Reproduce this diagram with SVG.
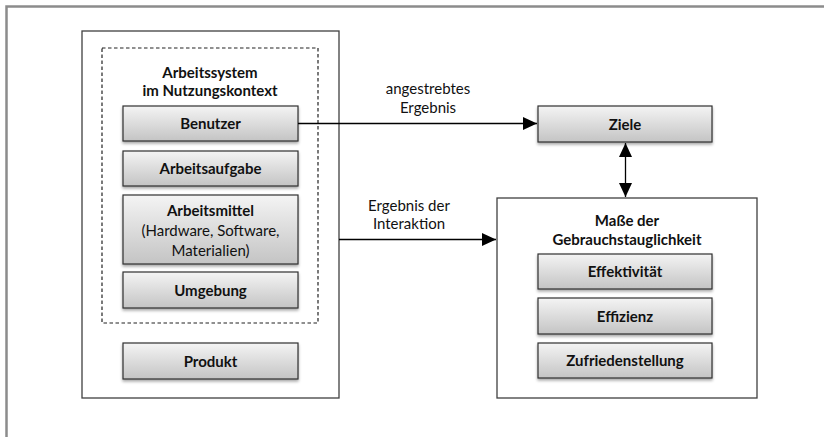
<svg xmlns="http://www.w3.org/2000/svg" width="824" height="437" viewBox="0 0 824 437">
  <style>
    .frame { fill: none; stroke: #8c8c8c; stroke-width: 2.5; }
    .box { fill: #ffffff; stroke: #404040; stroke-width: 1.3; }
    .dash { fill: none; stroke: #222222; stroke-width: 1.2; stroke-dasharray: 3.5 2.5; }
    .item { fill: url(#grayGrad); stroke: #303030; stroke-width: 1.2; filter: url(#shadow); }
    .label { font-family: Lato, "Open Sans", "Liberation Sans", sans-serif; font-size: 15px; fill: #111111; text-anchor: middle; }
    .bold { font-weight: bold; }
    .conn { fill: none; stroke: #000000; stroke-width: 1.3; }
  </style>
  <defs>
    <linearGradient id="grayGrad" x1="0" y1="0" x2="0" y2="1">
      <stop offset="0" stop-color="#f4f4f4"/>
      <stop offset="1" stop-color="#c4c4c4"/>
    </linearGradient>
    <filter id="shadow" x="-10%" y="-20%" width="120%" height="150%">
      <feGaussianBlur in="SourceAlpha" stdDeviation="1.5"/>
      <feOffset dx="0" dy="2" result="b"/>
      <feComponentTransfer><feFuncA type="linear" slope="0.35"/></feComponentTransfer>
      <feMerge><feMergeNode/><feMergeNode in="SourceGraphic"/></feMerge>
    </filter>
    <marker id="arrow" viewBox="0 0 14 13" refX="14" refY="6.5" markerWidth="14" markerHeight="13" markerUnits="userSpaceOnUse" orient="auto-start-reverse">
      <path d="M0,0 L14,6.5 L0,13 Z" fill="#000000"/>
    </marker>
  </defs>

  <rect width="824" height="437" fill="#ffffff"/>
  <!-- page frame: top and left edges -->
  <path class="frame" d="M6.5,437 V6.5 H824"/>

  <!-- work system container -->
  <g id="arbeitssystem">
    <rect class="box" x="82" y="31" width="257" height="367"/>
    <rect class="dash" x="102" y="48" width="216" height="275"/>
    <text class="label bold" x="210" y="78">Arbeitssystem</text>
    <text class="label bold" x="210" y="96">im Nutzungskontext</text>
  </g>
  <g id="benutzer">
    <rect class="item" x="123" y="106" width="175" height="35"/>
    <text class="label bold" x="210.5" y="129">Benutzer</text>
  </g>
  <g id="arbeitsaufgabe">
    <rect class="item" x="123" y="151" width="175" height="35"/>
    <text class="label bold" x="210.5" y="174">Arbeitsaufgabe</text>
  </g>
  <g id="arbeitsmittel">
    <rect class="item" x="123" y="195" width="175" height="69"/>
    <text class="label bold" x="210.5" y="216">Arbeitsmittel</text>
    <text class="label" x="210.5" y="236">(Hardware, Software,</text>
    <text class="label" x="210.5" y="256">Materialien)</text>
  </g>
  <g id="umgebung">
    <rect class="item" x="123" y="272" width="175" height="36"/>
    <text class="label bold" x="210.5" y="296">Umgebung</text>
  </g>
  <g id="produkt">
    <rect class="item" x="123" y="343" width="175" height="36"/>
    <text class="label bold" x="210.5" y="367">Produkt</text>
  </g>

  <g id="ziele">
    <rect class="item" x="538" y="106" width="174" height="36"/>
    <text class="label bold" x="625" y="130">Ziele</text>
  </g>

  <!-- usability measures container -->
  <g id="gebrauchstauglichkeit">
    <rect class="box" x="497" y="198" width="260" height="200"/>
    <text class="label bold" x="627" y="226">Maße der</text>
    <text class="label bold" x="627" y="245">Gebrauchstauglichkeit</text>
  </g>
  <g id="effektivitaet">
    <rect class="item" x="538" y="254" width="174" height="35"/>
    <text class="label bold" x="625" y="277">Effektivität</text>
  </g>
  <g id="effizienz">
    <rect class="item" x="538" y="298" width="174" height="36"/>
    <text class="label bold" x="625" y="322">Effizienz</text>
  </g>
  <g id="zufriedenstellung">
    <rect class="item" x="538" y="343" width="174" height="35"/>
    <text class="label bold" x="625" y="366">Zufriedenstellung</text>
  </g>

  <g id="connectors">
    <line class="conn" x1="298" y1="123.5" x2="537" y2="123.5" marker-end="url(#arrow)"/>
    <text class="label" x="428" y="94">angestrebtes</text>
    <text class="label" x="428" y="113">Ergebnis</text>
    <line class="conn" x1="339" y1="239.5" x2="496" y2="239.5" marker-end="url(#arrow)"/>
    <text class="label" x="409" y="211">Ergebnis der</text>
    <text class="label" x="409" y="229">Interaktion</text>
    <line class="conn" x1="625.5" y1="143" x2="625.5" y2="197" marker-start="url(#arrow)" marker-end="url(#arrow)"/>
  </g>
</svg>
